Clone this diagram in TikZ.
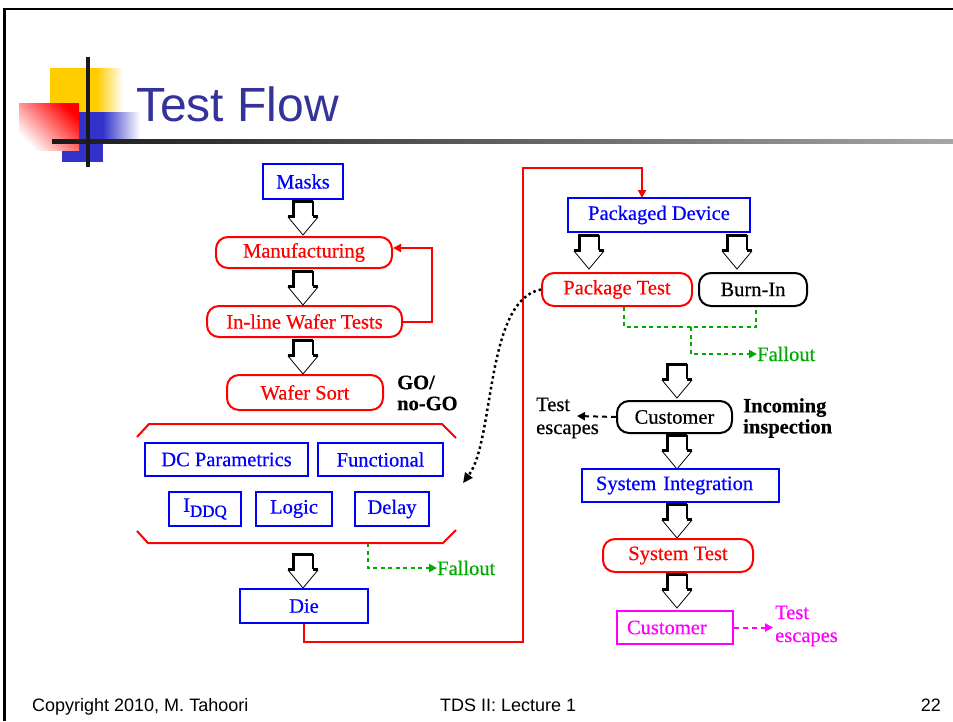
\documentclass[tikz,border=0pt]{standalone}
\usepackage{fontspec}
\setmainfont{Liberation Serif}[FakeBold=0.5]
\newfontfamily\slidesans{Liberation Sans}
\usetikzlibrary{arrows.meta,calc}

\definecolor{titleblue}{RGB}{51,51,153}
\definecolor{decoyellow}{RGB}{255,204,0}
\definecolor{decoblue}{RGB}{51,51,204}
\definecolor{fallgreen}{RGB}{0,170,0}
\definecolor{pinkm}{RGB}{255,0,255}

\tikzset{
  lbl/.style={font=\fontsize{20.5}{23}\selectfont, inner sep=0pt},
  bboxnode/.style={lbl, draw=blue, line width=2pt, text=blue},
  rpill/.style={lbl, draw=red, line width=2pt, rounded corners=12pt, text=red},
  kpill/.style={lbl, draw=black, line width=2pt, rounded corners=12pt, text=black},
  mboxnode/.style={lbl, draw=pinkm, line width=2pt, text=pinkm},
  flowline/.style={red, line width=2pt},
  falline/.style={fallgreen, line width=2pt, dash pattern=on 4pt off 3.5pt},
  tipa/.style={-{Triangle[length=8pt,width=8pt]}},
  blockarrow/.pic={
    \fill[white] (-10,0)--(10,0)--(10,16)--(15,17)--(0,35)--(-15,17)--(-10,16)--cycle;
    \draw[line width=0.8pt] (-15,17)--(0,35)--(15,17);
    \draw[line width=1.4pt] (10,1)--(10,16);
    \draw[line width=3pt, line join=miter] (-15,16)--(-10,16)--(-10,1)--(10,1);
    \draw[line width=3pt] (10,16)--(15,16);
  }
}

\begin{document}
\begin{tikzpicture}[x=1pt,y=-1pt]
\useasboundingbox (0,0) rectangle (953,721);

% slide frame
\draw[line width=2.5pt] (3,9) -- (953,9);
\draw[line width=2.5pt] (4.5,8) -- (4.5,721);

% title decoration
\fill[decoyellow] (50,68) rectangle (97,112);
\shade[left color=decoyellow, right color=white] (97,68) rectangle (123,112);
\fill[decoblue] (62,112) rectangle (103,162);
\shade[left color=decoblue, right color=white] (103,112) rectangle (140,142);
\shade[shading=axis, bottom color=white, top color=red, shading angle=-45] (19,103) rectangle (79,150);
\shade[left color=black!90, right color=black!35] (52,139) rectangle (953,143);
\fill[black!90] (86,57) rectangle (90,167);

\node[font=\slidesans\fontsize{48}{48}\selectfont, text=titleblue, anchor=base west, inner sep=0pt] (title) at (136,121) {Test Flow};

% left column
\node[bboxnode, minimum width=80pt, minimum height=35pt] (masks) at (303,181.5) {Masks};
\node[rpill, minimum width=176pt, minimum height=31pt] (manuf) at (304,252.5) {Manufacturing};
\node[rpill, minimum width=195pt, minimum height=31pt] (inline) at (304.5,321.5) {In-line Wafer Tests};
\node[rpill, minimum width=156pt, minimum height=35pt] (wsort) at (305,392.5) {Wafer Sort};
\node[lbl, font=\fontsize{20.5}{21}\selectfont\bfseries, align=left, anchor=west] (gonogo) at (397,393) {GO/\\no-GO};

\pic at (303,200) {blockarrow};
\pic at (303,270) {blockarrow};
\pic at (303,339) {blockarrow};

% feedback loop
\coordinate (fb) at (432,248);
\draw[flowline, tipa] (inline.east) -| (fb) -- (fb -| manuf.east);

% wafer-sort test bracket
\draw[red, line width=2pt] (137,437) -- (149,424) -- (442,424) -- (456,438);
\draw[red, line width=2pt] (137,531) -- (148,543) -- (443,543) -- (456,530);
\node[bboxnode, minimum width=163pt, minimum height=33pt] (dcp) at (226.5,459.5) {DC Parametrics};
\node[bboxnode, minimum width=125pt, minimum height=33pt] (func) at (380.5,459.5) {Functional};
\node[bboxnode, minimum width=72pt, minimum height=34pt] (iddq) at (205,509) {I\raisebox{-5pt}{\fontsize{17}{17}\selectfont DDQ}};
\node[bboxnode, minimum width=76pt, minimum height=34pt] (logic) at (294,509) {Logic};
\node[bboxnode, minimum width=74pt, minimum height=34pt] (delay) at (392,509) {Delay};
\coordinate (brkbot) at (368,543);
\coordinate (ctip) at (463,483);

\pic at (303,553) {blockarrow};
\node[bboxnode, minimum width=128pt, minimum height=34pt] (die) at (304,606) {Die};

\node[lbl, text=fallgreen, anchor=west] (fall1) at (437,568) {Fallout};
\draw[falline, tipa] (brkbot) |- (fall1.west);

% die to packaging
\coordinate (r1) at (523,642);
\coordinate (r2) at (523,167.5);
\coordinate (pdin) at (642,198);
\draw[flowline, tipa] (die.south) |- (r1) -- (r2) -| (pdin);

% right column
\node[bboxnode, minimum width=182pt, minimum height=34pt] (pd) at (659,215) {Packaged Device};
\node[rpill, minimum width=150pt, minimum height=33pt] (ptest) at (617,289.5) {Package Test};
\node[kpill, minimum width=108pt, minimum height=33pt] (burn) at (753,289.5) {Burn-In};
\pic at (589,234) {blockarrow};
\pic at (737,234) {blockarrow};

\draw[line width=2.5pt, dash pattern=on 2.5pt off 3pt, -{Triangle[length=10pt,width=9pt]}]
  (ptest.west) .. controls (485,300) and (495,440) .. (ctip);

\coordinate (g1) at (624,307);
\coordinate (g2) at (756,307);
\coordinate (g3) at (691,327);
\node[lbl, text=fallgreen, anchor=west] (fall2) at (757,354) {Fallout};
\draw[falline] (g1) |- (g3) -| (g2);
\draw[falline, tipa] (g3) |- (fall2.west);

\pic at (677,363) {blockarrow};
\node[kpill, minimum width=115pt, minimum height=32pt] (cust1) at (674.5,417) {Customer};
\node[lbl, align=left, anchor=west] (esc1) at (536,418) {Test\\escapes};
\node[lbl, font=\fontsize{20.5}{21}\selectfont\bfseries, align=left, anchor=west] (inc) at (743,418) {Incoming\\inspection};
\coordinate (e1) at (577,416);
\draw[line width=2pt, dash pattern=on 5pt off 4pt, tipa] (cust1.west) -- (e1);

\pic at (677,434) {blockarrow};
\node[bboxnode, minimum height=33pt, text width=169pt, inner xsep=14pt, align=left] (sysint) at (680.5,485.5) {System Integration};
\pic at (677,503) {blockarrow};
\node[rpill, minimum width=150pt, minimum height=33pt] (systest) at (678,555.5) {System Test};
\pic at (677,573) {blockarrow};
\node[mboxnode, minimum height=33pt, text width=96pt, inner xsep=10pt, align=left] (cust2) at (675,627.5) {Customer};
\node[lbl, text=pinkm, align=left, anchor=west] (esc2) at (775,626) {Test\\escapes};
\coordinate (e2) at (773,627.5);
\draw[pinkm, line width=2pt, dash pattern=on 5pt off 4pt, tipa] (cust2.east) -- (e2);

% footer
\node[font=\slidesans\fontsize{18}{18}\selectfont, anchor=base west, inner sep=0pt] (copy) at (32,711) {Copyright 2010, M. Tahoori};
\node[font=\slidesans\fontsize{18}{18}\selectfont, anchor=base west, inner sep=0pt] (lect) at (440,711) {TDS II: Lecture 1};
\node[font=\slidesans\fontsize{18}{18}\selectfont, anchor=base east, inner sep=0pt] (pg) at (941,711) {22};
\end{tikzpicture}
\end{document}
